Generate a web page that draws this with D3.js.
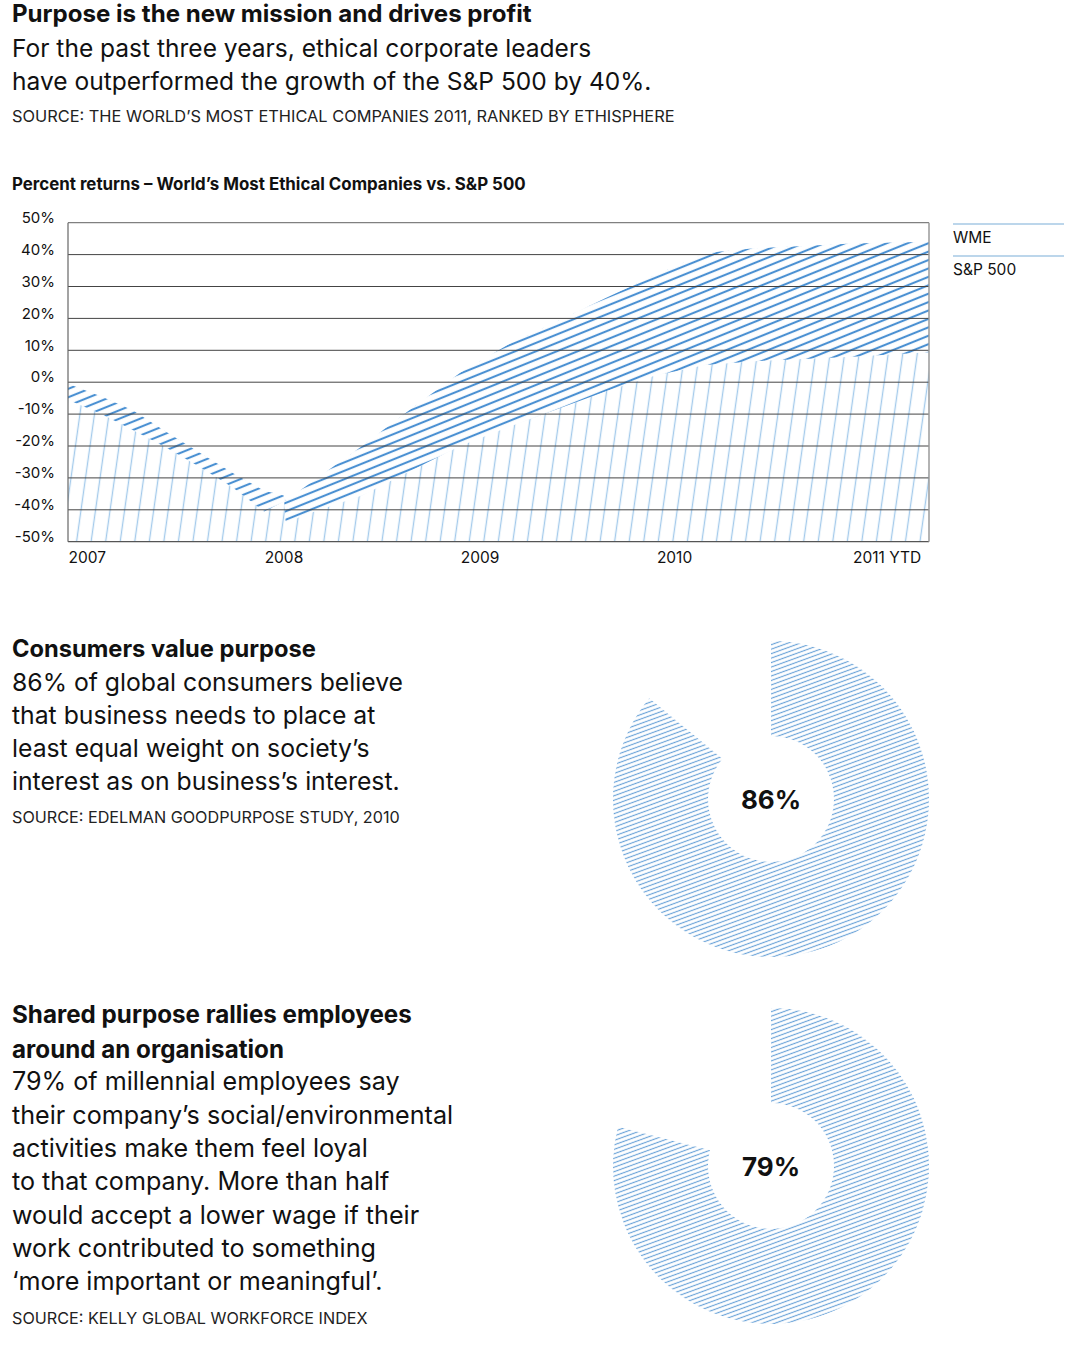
<!DOCTYPE html>
<html><head><meta charset="utf-8">
<script src="https://cdn.jsdelivr.net/npm/d3@7/dist/d3.min.js"></script>
<style>
html,body{margin:0;padding:0;background:#fff;}
svg{display:block;font-family:Inter,"Noto Sans",sans-serif;}
</style></head>
<body>
<svg id="c" width="1077" height="1346"></svg>
<script>
// ---------- DATA ----------
const years = [2007, 2007.17, 2007.33, 2007.5, 2007.67, 2007.84, 2008.0, 2008.1, 2008.11, 2008.25, 2008.5, 2008.75, 2009.0, 2009.25, 2009.5, 2009.75, 2010.0, 2010.25, 2010.5, 2010.75, 2011.0, 2011.39];
const wme   = [-5.5, -10, -15, -20.5, -26.5, -33, -40.5, -37.5, -37.2, -31, -20, -8.3, 3, 12, 19.3, 26.6, 33.8, 40.5, 42, 42.7, 43.5, 44];
const sp500 = [-0.5, -4.5, -8.8, -15.5, -22, -28.5, -34, -35.5, -44, -40.7, -35.5, -27.7, -20, -14, -8.3, -2.7, 2.2, 5.4, 6.6, 7.3, 8, 9.4];
const xTickYears = [2007, 2008, 2009, 2010, 2011];
const xTickLabels = ["2007", "2008", "2009", "2010", "2011 YTD"];
const yTicks = [50, 40, 30, 20, 10, 0, -10, -20, -30, -40, -50];
const legendLabels = ["WME", "S&P 500"];
const donutValues = [86, 79];
const donutLabels = ["86%", "79%"];

const headerBlock = {
  title: ["Purpose is the new mission and drives profit"],
  body: ["For the past three years, ethical corporate leaders", "have outperformed the growth of the S&P 500 by 40%."],
  source: "SOURCE: THE WORLD\u2019S MOST ETHICAL COMPANIES 2011, RANKED BY ETHISPHERE"
};
const chartTitle = "Percent returns \u2013 World\u2019s Most Ethical Companies vs. S&P 500";
const block2 = {
  title: ["Consumers value purpose"],
  body: ["86% of global consumers believe", "that business needs to place at", "least equal weight on society\u2019s", "interest as on business\u2019s interest."],
  source: "SOURCE: EDELMAN GOODPURPOSE STUDY, 2010"
};
const block3 = {
  title: ["Shared purpose rallies employees", "around an organisation"],
  body: ["79% of millennial employees say", "their company\u2019s social/environmental", "activities make them feel loyal", "to that company. More than half", "would accept a lower wage if their", "work contributed to something", "\u2018more important or meaningful\u2019."],
  source: "SOURCE: KELLY GLOBAL WORKFORCE INDEX"
};

// ---------- SETUP ----------
const svg = d3.select("#c");
const defs = svg.append("defs");
const FONT = "Inter, 'Noto Sans', sans-serif";

function hatch(id, spacing, angle, color, width, vertical) {
  const p = defs.append("pattern").attr("id", id)
    .attr("patternUnits", "userSpaceOnUse")
    .attr("width", spacing).attr("height", spacing)
    .attr("patternTransform", `rotate(${angle})`);
  if (vertical) {
    p.append("line").attr("x1", spacing / 2).attr("x2", spacing / 2).attr("y1", -1).attr("y2", spacing + 1)
      .attr("stroke", color).attr("stroke-width", width);
  } else {
    p.append("line").attr("x1", -1).attr("x2", spacing + 1).attr("y1", spacing / 2).attr("y2", spacing / 2)
      .attr("stroke", color).attr("stroke-width", width);
  }
}
hatch("darkHatch", 7.8, -22, "#4a90d2", 2.1, false);
hatch("lightHatch", 14.4, 8, "#a4caeb", 1.35, true);
hatch("donutHatch", 4.2, -20, "#6aa3d8", 1.15, false);

// fit font-size so a group of lines spans the summed target widths
function fitLines(lines, weight, targets) {
  let w = 0;
  lines.forEach(s => {
    const t = svg.append("text").attr("font-family", FONT).attr("font-weight", weight)
      .attr("font-size", 20).text(s);
    w += t.node().getComputedTextLength();
    t.remove();
  });
  return 20 * d3.sum(targets) / w;
}
function textLines(lines, x, y0, lh, size, weight, color) {
  lines.forEach((s, i) => {
    svg.append("text").attr("x", x).attr("y", y0 + i * lh)
      .attr("font-family", FONT).attr("font-size", size).attr("font-weight", weight)
      .attr("fill", color || "#111").text(s);
  });
}

// ---------- HEADER TEXT ----------
textLines(headerBlock.title, 12, 22, 34, fitLines(headerBlock.title, 700, [520]), 700);
textLines(headerBlock.body, 12, 57, 33.3, fitLines(headerBlock.body, 400, [586, 633]), 400);
textLines([headerBlock.source], 12, 122, 0, fitLines([headerBlock.source], 400, [663]), 400, "#222");
textLines([chartTitle], 12, 189.5, 0, fitLines([chartTitle], 700, [514]), 700);

// ---------- LINE / AREA CHART ----------
const plot = {l: 68, r: 929, t: 222.7, b: 541.7};
const x = d3.scaleLinear().domain([2007, 2011.39]).range([plot.l, plot.r]);
const y = d3.scaleLinear().domain([-50, 50]).range([plot.b, plot.t]);
const rows = years.map((yr, i) => ({yr, w: wme[i], s: sp500[i]}));

const g = svg.append("g");
const under = d3.area().x(d => x(d.yr)).y0(y(-50)).y1(d => y(Math.max(d.w, d.s)));
g.append("path").datum(rows).attr("d", under).attr("fill", "url(#lightHatch)");
const band = d3.area().x(d => x(d.yr)).y0(d => y(d.s)).y1(d => y(d.w));
g.append("path").datum(rows).attr("d", band).attr("fill", "#fff");
g.append("path").datum(rows).attr("d", band).attr("fill", "url(#darkHatch)");

g.selectAll("line.grid").data(yTicks.filter(v => v !== 50 && v !== -50)).join("line")
  .attr("class", "grid").attr("x1", plot.l).attr("x2", plot.r)
  .attr("y1", d => y(d)).attr("y2", d => y(d))
  .attr("stroke", "#444").attr("stroke-width", 1);
g.append("line").attr("x1", plot.l).attr("x2", plot.r).attr("y1", plot.t).attr("y2", plot.t).attr("stroke", "#808080").attr("stroke-width", 1.2);
g.append("line").attr("x1", plot.l).attr("x2", plot.r).attr("y1", plot.b).attr("y2", plot.b).attr("stroke", "#555").attr("stroke-width", 1.2);
g.append("line").attr("x1", plot.l).attr("x2", plot.l).attr("y1", plot.t).attr("y2", plot.b).attr("stroke", "#666").attr("stroke-width", 1.2);
g.append("line").attr("x1", plot.r).attr("x2", plot.r).attr("y1", plot.t).attr("y2", plot.b).attr("stroke", "#9a9a9a").attr("stroke-width", 1.5);

const yAxis = d3.axisLeft(y).tickValues(yTicks).tickSize(0).tickPadding(13).tickFormat(d => d + "%");
const ya = svg.append("g").attr("transform", `translate(${plot.l},0)`).call(yAxis);
ya.select(".domain").remove();
ya.selectAll("text").attr("font-family", FONT).attr("font-size", 15).attr("fill", "#111").attr("dy", "-0.02em");

const xAxis = d3.axisBottom(x).tickValues(xTickYears).tickSize(0).tickPadding(0)
  .tickFormat((d, i) => xTickLabels[i]);
const xa = svg.append("g").attr("transform", `translate(0,${plot.b})`).call(xAxis);
xa.select(".domain").remove();
xa.selectAll("text").attr("font-family", FONT).attr("font-size", 15.5).attr("fill", "#111")
  .attr("text-anchor", "start").attr("y", 21.5).attr("dy", 0);

const lg = svg.append("g");
legendLabels.forEach((lab, i) => {
  const ly = 224 + i * 32;
  lg.append("line").attr("x1", 953).attr("x2", 1064).attr("y1", ly).attr("y2", ly)
    .attr("stroke", "#a6c8e4").attr("stroke-width", 1.6);
  lg.append("text").attr("x", 953).attr("y", ly + 18.5).attr("font-family", FONT)
    .attr("font-size", 15.5).attr("fill", "#111").text(lab);
});

// ---------- TEXT BLOCKS 2 & 3 ----------
textLines(block2.title, 12, 656.5, 0, fitLines(block2.title, 700, [304]), 700);
textLines(block2.body, 12, 690.5, 33.2, fitLines(block2.body, 400, [382, 366, 358, 394]), 400);
textLines([block2.source], 12, 823, 0, fitLines([block2.source], 400, [388]), 400, "#222");

textLines(block3.title, 12, 1023, 34.5, fitLines(block3.title, 700, [400, 272]), 700);
textLines(block3.body, 12, 1090.3, 33.3, fitLines(block3.body, 400, [378, 432, 364, 381, 404, 367, 378]), 400);
textLines([block3.source], 12, 1323.5, 0, fitLines([block3.source], 400, [356]), 400, "#222");

// ---------- DONUTS ----------
const donutCenters = [[771, 799], [771, 1166]];
const arc = d3.arc().innerRadius(63).outerRadius(158).startAngle(0);
donutValues.forEach((v, i) => {
  const [cx, cy] = donutCenters[i];
  const dg = svg.append("g").attr("transform", `translate(${cx},${cy})`);
  dg.append("path").attr("d", arc({endAngle: 2 * Math.PI * v / 100}))
    .attr("fill", "url(#donutHatch)");
  dg.append("text").attr("x", 0).attr("y", 9.5).attr("text-anchor", "middle")
    .attr("font-family", FONT).attr("font-weight", 700).attr("font-size", 26)
    .attr("fill", "#111").text(donutLabels[i]);
});
</script>
</body></html>
